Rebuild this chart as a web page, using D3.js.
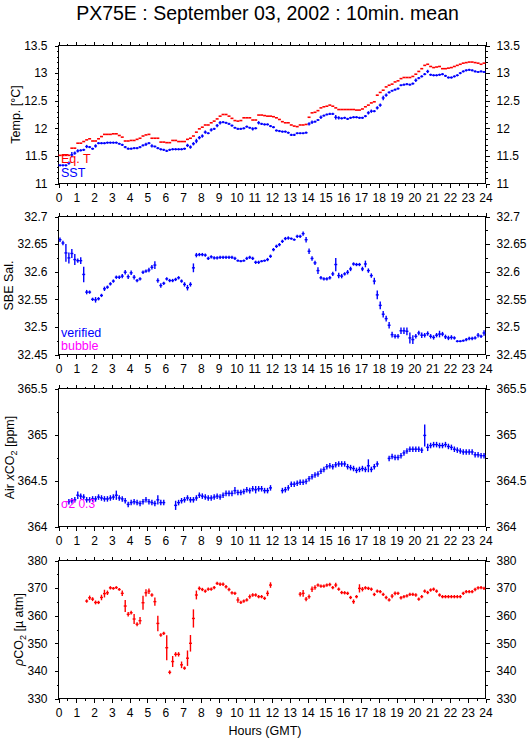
<!DOCTYPE html>
<html><head><meta charset="utf-8">
<script src="https://cdn.jsdelivr.net/npm/d3@7"></script>
<style>
body{margin:0;background:#fff}
svg{display:block}
text{font-family:"Liberation Sans",Arial,Helvetica,sans-serif}
</style></head>
<body><svg id="c" width="529" height="739"></svg>
<script>
// ---------- DATA (10-minute means, index i = i*10 min) ----------
const hours = d3.range(0, 25);
const halfHours = d3.range(0.5, 24, 1);

const eqT = [
 11.51,11.51,11.51,11.51,11.64,11.64, 11.73,11.73,11.76,11.79,11.81,11.77,
 11.77,11.81,11.85,11.89,11.89,11.89, 11.90,11.90,11.87,11.84,11.77,11.77,
 11.78,11.78,11.80,11.82,11.86,11.88, 11.89,11.82,11.82,11.82,11.75,11.75,
 11.74,11.74,11.78,11.78,11.76,11.76, 11.76,11.80,11.82,11.86,11.93,11.99,
 12.02,12.06,12.06,12.10,12.13,12.17, 12.22,12.25,12.25,12.22,12.18,12.14,
 12.13,12.14,12.19,12.19,12.19,12.15, 12.15,12.24,12.24,12.23,12.22,12.22,
 12.21,12.19,12.16,12.12,12.10,12.10, 12.06,12.04,12.03,12.06,12.06,12.07,
 12.20,12.28,12.29,12.32,12.37,12.39, 12.40,12.42,12.40,12.37,12.34,12.34,
 12.34,12.34,12.34,12.34,12.33,12.33, 12.35,12.39,12.42,12.46,12.48,12.60,
 12.65,12.69,12.75,12.78,12.80,12.84, 12.86,12.90,12.92,12.92,12.92,12.94,
 12.98,13.03,13.08,13.14,13.16,13.12, 13.10,13.11,13.12,13.08,13.08,13.09,
 13.10,13.12,13.14,13.16,13.18,13.19, 13.20,13.20,13.19,13.18,13.16,13.18];

const sst = [
 11.33,11.33,11.33,11.37,11.52,11.55, 11.59,11.60,11.61,11.67,11.66,11.63,
 11.68,11.73,11.73,11.73,11.74,11.74, 11.74,11.74,11.72,11.70,11.66,11.63,
 11.63,11.64,11.64,11.66,11.69,11.71, 11.73,11.68,11.67,11.64,11.62,11.61,
 11.59,11.61,11.62,11.62,11.62,11.62, 11.63,11.69,11.66,11.72,11.77,11.83,
 11.86,11.93,11.91,11.97,11.99,12.05, 12.10,12.11,12.10,12.08,12.05,12.01,
 11.99,11.99,12.00,12.03,12.01,11.99, 12.00,12.10,12.08,12.07,12.07,12.04,
 12.02,11.96,11.95,11.94,11.94,11.92, 11.88,11.88,11.91,11.91,11.91,11.92,
 12.08,12.11,12.12,12.15,12.20,12.23, 12.25,12.26,12.26,12.20,12.19,12.18,
 12.19,12.17,12.19,12.20,12.20,12.19, 12.19,12.22,12.28,12.31,12.31,12.37,
 12.42,12.55,12.60,12.65,12.68,12.70, 12.72,12.78,12.79,12.80,12.79,12.81,
 12.87,12.91,12.94,12.98,13.03,12.97, 12.96,12.96,12.97,12.98,12.95,12.92,
 12.92,12.94,12.96,13.00,13.03,13.05, 13.06,13.05,13.03,13.02,13.03,13.02];
const sstSd = [
 .02,.02,.02,.03,.05,.03, .03,.02,.02,.03,.02,.02, .03,.02,.02,.02,.02,.02, .02,.02,.02,.02,.02,.02,
 .02,.02,.02,.02,.02,.03, .02,.03,.02,.02,.02,.02, .02,.02,.02,.02,.02,.02, .02,.03,.03,.03,.04,.03,
 .03,.03,.02,.03,.02,.03, .03,.02,.02,.02,.02,.02, .02,.02,.02,.02,.02,.03, .02,.03,.02,.02,.02,.02,
 .02,.02,.02,.02,.02,.02, .02,.02,.02,.02,.02,.02, .03,.03,.02,.02,.03,.02, .02,.02,.02,.04,.03,.02,
 .02,.02,.02,.02,.02,.02, .02,.02,.03,.03,.02,.03, .03,.04,.03,.02,.02,.02, .02,.02,.02,.02,.02,.02,
 .03,.02,.02,.02,.03,.02, .02,.02,.02,.02,.02,.02, .02,.02,.02,.02,.02,.02, .02,.02,.02,.02,.02,.02];

const sal = [
 32.658,32.652,32.634,32.625,32.633,32.622, 32.620,32.620,32.595,32.563,32.563,32.550,
 32.549,32.551,32.557,32.569,32.572,32.578, 32.583,32.590,32.590,32.592,32.599,32.591,
 32.598,32.590,32.584,32.587,32.599,32.601, 32.603,32.608,32.612,32.584,32.575,32.579,
 32.587,32.584,32.584,32.586,32.589,32.583, 32.577,32.571,32.577,32.607,32.630,32.631,
 32.631,32.630,32.624,32.627,32.625,32.625, 32.626,32.626,32.626,32.626,32.626,32.624,
 32.620,32.619,32.620,32.624,32.626,32.624, 32.617,32.617,32.619,32.620,32.622,32.628,
 32.640,32.646,32.649,32.655,32.660,32.661, 32.660,32.658,32.664,32.664,32.669,32.658,
 32.637,32.624,32.616,32.602,32.589,32.587, 32.587,32.589,32.596,32.613,32.593,32.592,
 32.596,32.599,32.605,32.614,32.613,32.613, 32.605,32.614,32.602,32.593,32.583,32.558,
 32.539,32.523,32.515,32.503,32.486,32.483, 32.483,32.493,32.493,32.492,32.480,32.477,
 32.483,32.489,32.485,32.485,32.488,32.483, 32.481,32.485,32.487,32.487,32.482,32.480,
 32.481,32.480,32.474,32.474,32.475,32.477, 32.479,32.479,32.480,32.485,32.483,32.489];
const salSd = [
 .004,.004,.016,.010,.008,.010, .004,.006,.014,.004,.003,.003,
 .005,.003,.003,.004,.003,.003, .003,.003,.003,.004,.004,.004,
 .004,.004,.003,.003,.003,.003, .004,.004,.007,.004,.004,.003,
 .003,.003,.003,.003,.003,.003, .004,.005,.004,.008,.004,.003,
 .003,.003,.003,.003,.003,.003, .003,.003,.003,.003,.003,.003,
 .002,.002,.002,.003,.003,.003, .003,.003,.002,.002,.003,.003,
 .003,.003,.003,.003,.003,.003, .002,.002,.003,.003,.004,.005,
 .005,.004,.004,.006,.003,.003, .003,.003,.004,.012,.005,.004,
 .003,.004,.004,.003,.003,.003, .004,.006,.004,.004,.006,.008,
 .007,.006,.005,.006,.005,.004, .004,.006,.006,.007,.010,.008,
 .004,.004,.005,.004,.004,.004, .004,.004,.006,.004,.004,.004,
 .004,.003,.002,.002,.002,.003, .003,.003,.003,.004,.003,.005];

const xco2 = [
 null,null,null,364.27,364.28,364.29, 364.34,364.33,364.32,364.29,364.29,364.30,
 364.30,364.32,364.31,364.30,364.30,364.31, 364.32,364.34,364.31,364.30,364.28,364.24,
 364.26,364.27,364.26,364.25,364.27,364.29, 364.27,364.26,364.25,364.29,364.26,364.26,
 null,null,null,364.23,364.26,364.28, 364.29,364.31,364.29,364.29,364.31,364.34,
 364.33,364.32,364.31,364.31,364.32,364.33, 364.32,364.34,364.36,364.36,364.36,364.39,
 364.37,364.37,364.38,364.40,364.39,364.41, 364.40,364.41,364.41,364.39,364.39,364.42,
 null,null,null,364.39,364.40,364.42, 364.46,364.46,364.47,364.48,364.48,364.49,
 364.52,364.54,364.56,364.57,364.60,364.62, 364.65,364.66,364.65,364.67,364.68,364.68,
 364.68,364.65,364.64,364.63,364.61,364.62, 364.63,364.62,364.66,364.62,364.65,364.68,
 null,null,null,364.74,364.76,364.75, 364.75,364.77,364.80,364.82,364.84,364.84,
 364.84,364.84,364.83,364.99,364.86,364.88, 364.89,364.89,364.88,364.88,364.89,364.87,
 364.86,364.84,364.83,364.82,364.81,364.81, 364.81,364.81,364.78,364.78,364.77,364.77];
const xco2Sd = [
 0,0,0,.03,.03,.03, .04,.03,.03,.03,.03,.03, .03,.03,.03,.03,.03,.03, .03,.05,.03,.03,.03,.03,
 .03,.03,.03,.03,.03,.03, .03,.03,.03,.05,.03,.03, 0,0,0,.05,.03,.03, .03,.03,.03,.03,.03,.03,
 .03,.03,.03,.03,.03,.03, .03,.03,.03,.03,.03,.04, .03,.03,.03,.03,.03,.03, .04,.03,.03,.03,.03,.03,
 0,0,0,.03,.03,.03, .03,.03,.03,.03,.03,.03, .03,.03,.03,.03,.03,.03, .03,.03,.03,.03,.03,.03,
 .03,.03,.03,.03,.03,.03, .03,.03,.07,.03,.03,.03, 0,0,0,.03,.03,.03, .03,.03,.03,.03,.03,.03,
 .03,.03,.03,.12,.04,.03, .03,.03,.03,.03,.03,.03, .03,.03,.03,.03,.03,.03, .03,.03,.03,.03,.03,.03];

const pco2 = [
 null,null,null,null,null,null, null,null,null,365.3,366.5,366.0,
 364.8,364.8,366.6,368.0,368.3,370.1, 369.9,370.2,369.5,368.1,363.5,360.5,
 361.1,358.8,356.9,358.2,364.7,368.3, 368.9,367.5,365.1,357.2,353.0,353.6,
 348.4,339.5,343.4,346.0,346.0,342.2, 341.0,344.6,350.0,359.0,367.5,369.9,
 369.5,368.9,369.6,369.6,370.2,371.7, 371.4,371.4,370.5,369.5,368.3,368.1,
 365.7,364.8,365.3,365.7,366.9,367.5, 367.5,366.9,366.9,366.3,368.1,371.1,
 null,null,null,null,null,null, null,null,null,367.8,368.1,366.0,
 366.9,369.6,370.2,371.1,370.7,370.7, 371.1,371.3,370.2,371.1,369.6,368.4,
 368.3,368.1,366.6,365.1,366.9,369.9, 369.6,370.1,369.9,369.6,367.7,368.9,
 368.7,367.7,366.6,365.7,367.1,368.1, 368.1,366.5,366.9,367.2,367.7,367.7,
 367.5,366.0,366.9,368.9,368.4,369.3, 369.6,368.9,367.5,366.9,366.9,366.9,
 366.9,366.9,366.9,366.9,368.1,368.7, 368.7,368.7,369.5,370.1,370.2,369.9];
const pco2Sd = [
 0,0,0,0,0,0, 0,0,0,.6,.8,.7, .7,.6,1.0,1.4,.8,.6, .5,.5,.5,1.0,2.2,.8,
 .7,1.8,.7,1.3,2.5,1.3, 1.0,.6,1.5,2.8,.6,.6, 4.5,.7,2.0,.8,.8,1.2, .6,2.8,3.0,3.3,1.6,.7,
 .6,.6,.6,.6,.6,.6, .6,.6,.6,.6,.6,.6, 1.0,.6,.6,.6,.8,.6, .6,.6,.6,.6,1.0,1.0,
 0,0,0,0,0,0, 0,0,0,.8,1.2,.8, .8,1.0,.8,.6,.6,.6, .6,.6,.6,.8,.6,.6, .6,.6,.6,.8,.6,1.5,
 .8,.6,.6,.6,.6,.6, .6,.6,.6,.6,.8,.7, .6,.6,.6,.6,.6,.6, .6,.6,.6,.6,.6,.6,
 .6,.6,.6,.6,.6,.6, .6,.6,.6,.6,.6,.6, .6,.6,.6,.6,.6,.6, .6,.6,.6,.6,.6,.6];

const tempTicks = [11, 11.5, 12, 12.5, 13, 13.5];
const salTicks = [32.45, 32.5, 32.55, 32.6, 32.65, 32.7];
const xco2Ticks = [364, 364.5, 365, 365.5];
const pco2Ticks = [330, 340, 350, 360, 370, 380];

// ---------- LAYOUT ----------
const svg = d3.select("#c");
const L = 58.5, R = 485.5, H = 138;
const x = d3.scaleLinear().domain([0, 24]).range([L, R]);
const BLUE = "#0000ff", RED = "#ff0000", MAG = "#ff00ff";

svg.append("text").attr("x", 267.5).attr("y", 19.5).attr("text-anchor", "middle")
  .attr("font-size", 19.5).text("PX75E : September 03, 2002 : 10min. mean");

function fmt(d) { return String(+d.toFixed(3)); }

function panel(top, domain, majors, minorStep) {
  const y = d3.scaleLinear().domain(domain).range([top + H, top]);
  const minors = d3.range(domain[0], domain[1] + minorStep / 2, minorStep)
    .map(v => +v.toFixed(4)).filter(v => !majors.some(m => Math.abs(m - v) < 1e-6));
  const g = svg.append("g");
  const style = a => { a.select(".domain").remove(); a.selectAll("text").attr("font-size", 12).attr("font-family", null).attr("fill", "#000"); a.selectAll("line").attr("stroke", "#000").attr("shape-rendering", "crispEdges"); };
  g.append("g").attr("transform", `translate(${L},0)`).call(d3.axisLeft(y).tickValues(majors).tickSize(4).tickPadding(7).tickFormat(fmt)).call(style);
  g.append("g").attr("transform", `translate(${L},0)`).call(d3.axisLeft(y).tickValues(minors).tickSize(2).tickFormat("")).call(style);
  g.append("g").attr("transform", `translate(${R},0)`).call(d3.axisRight(y).tickValues(majors).tickSize(4).tickPadding(7).tickFormat(fmt)).call(style);
  g.append("g").attr("transform", `translate(${R},0)`).call(d3.axisRight(y).tickValues(minors).tickSize(2).tickFormat("")).call(style);
  g.append("g").attr("transform", `translate(0,${top})`).call(d3.axisTop(x).tickValues(hours).tickSize(4).tickFormat("")).call(style);
  g.append("g").attr("transform", `translate(0,${top})`).call(d3.axisTop(x).tickValues(halfHours).tickSize(2).tickFormat("")).call(style);
  g.append("g").attr("transform", `translate(0,${top + H})`).call(d3.axisBottom(x).tickValues(hours).tickSize(4).tickPadding(6).tickFormat(d3.format("d"))).call(style);
  g.append("g").attr("transform", `translate(0,${top + H})`).call(d3.axisBottom(x).tickValues(halfHours).tickSize(2).tickFormat("")).call(style);
  g.append("rect").attr("x", L).attr("y", top).attr("width", R - L).attr("height", H)
    .attr("fill", "none").attr("stroke", "#000").attr("shape-rendering", "crispEdges");
  return { g, y };
}

function crosses(p, vals, sds, color, vert, w) {
  const pts = vals.map((v, i) => ({ i, v, s: sds ? sds[i] : 0 })).filter(d => d.v != null);
  const gg = p.g.append("g").attr("stroke", color).attr("stroke-width", w);
  gg.selectAll("line.h").data(pts).join("line").attr("class", "h")
    .attr("x1", d => x(d.i / 6)).attr("x2", d => x((d.i + 1) / 6))
    .attr("y1", d => p.y(d.v)).attr("y2", d => p.y(d.v));
  if (vert) {
    gg.selectAll("line.v").data(pts).join("line").attr("class", "v")
      .attr("x1", d => x((d.i + 0.5) / 6)).attr("x2", d => x((d.i + 0.5) / 6))
      .attr("y1", d => p.y(d.v - d.s)).attr("y2", d => p.y(d.v + d.s));
  }
}

function ylabel(cx, cy, build) {
  const t = svg.append("text").attr("transform", `translate(${cx},${cy}) rotate(-90)`)
    .attr("text-anchor", "middle").attr("font-size", 12.5);
  build(t);
}

// Panel 1
const p1 = panel(45.5, [11, 13.5], tempTicks, 0.1);
crosses(p1, eqT, null, RED, false, 1.6);
crosses(p1, sst, sstSd, BLUE, true, 1.4);
p1.g.append("text").attr("x", 61).attr("y", 162.5).attr("fill", RED).attr("font-size", 12.5).text("Eq. T");
p1.g.append("text").attr("x", 61).attr("y", 176.5).attr("fill", BLUE).attr("font-size", 12.5).text("SST");
ylabel(20, 114.5, t => t.text("Temp. [°C]"));

// Panel 2
const p2 = panel(216.5, [32.45, 32.7], salTicks, 0.025);
crosses(p2, sal, salSd, BLUE, true, 1.4);
p2.g.append("text").attr("x", 61).attr("y", 336.5).attr("fill", BLUE).attr("font-size", 12.5).text("verified");
p2.g.append("text").attr("x", 61).attr("y", 349.5).attr("fill", MAG).attr("font-size", 12.5).text("bubble");
ylabel(13, 285.5, t => t.text("SBE Sal."));

// Panel 3
const p3 = panel(388.5, [364, 365.5], xco2Ticks, 0.25);
crosses(p3, xco2, xco2Sd, BLUE, true, 1.4);
p3.g.append("text").attr("x", 61).attr("y", 508).attr("fill", MAG).attr("font-size", 12).text("σ2 0.3");
ylabel(14, 457.5, t => {
  t.append("tspan").text("Air ");
  t.append("tspan").attr("font-style", "italic").text("x");
  t.append("tspan").text("CO");
  t.append("tspan").attr("font-size", 9).attr("dy", 3).text("2");
  t.append("tspan").attr("dy", -3).text(" [ppm]");
});

// Panel 4
const p4 = panel(560.5, [330, 380], pco2Ticks, 5);
crosses(p4, pco2, pco2Sd, RED, true, 1.4);
ylabel(23, 629.5, t => {
  t.append("tspan").attr("font-style", "italic").text("ρ");
  t.append("tspan").text("CO");
  t.append("tspan").attr("font-size", 9).attr("dy", 3).text("2");
  t.append("tspan").attr("dy", -3).text(" [µ atm]");
});

svg.append("text").attr("x", 265).attr("y", 734.5).attr("text-anchor", "middle")
  .attr("font-size", 12.5).text("Hours (GMT)");
</script></body></html>
